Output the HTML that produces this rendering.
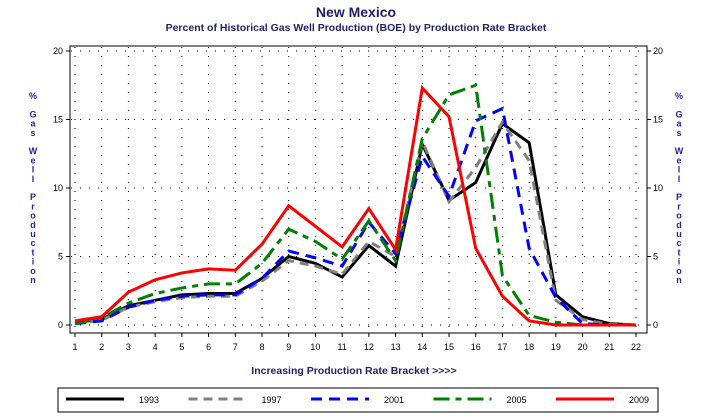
<!DOCTYPE html>
<html><head><meta charset="utf-8"><style>
body{margin:0;background:#fff;}
svg{display:block;font-family:"Liberation Sans",Arial,sans-serif;}
</style></head><body>
<svg id="chart" width="712" height="418" viewBox="0 0 712 418" xmlns="http://www.w3.org/2000/svg">
<text x="356" y="17" text-anchor="middle" font-size="14" font-weight="bold" fill="#1f1f6b">New Mexico</text>
<text x="356" y="31" text-anchor="middle" font-size="10.5" font-weight="bold" fill="#1f1f6b">Percent of Historical Gas Well Production (BOE) by Production Rate Bracket</text>
<g id="grid"></g>
<rect x="70" y="46" width="577" height="287" fill="none" stroke="#000" stroke-width="1"/>
<g id="axes"></g>
<g id="series"></g>
<g font-size="9" font-weight="bold" fill="#2222aa" text-anchor="middle" id="ylt"></g>
<g font-size="9" font-weight="bold" fill="#2222aa" text-anchor="middle" id="yrt"></g>
<text x="354" y="374" text-anchor="middle" font-size="10.5" font-weight="bold" fill="#1f1f6b">Increasing Production Rate Bracket &gt;&gt;&gt;&gt;</text>
<rect x="58" y="388" width="600" height="24" fill="#fff" stroke="#000" stroke-width="1"/>
<g id="legend"></g>
</svg>
<script>
const categories=[1,2,3,4,5,6,7,8,9,10,11,12,13,14,15,16,17,18,19,20,21,22];
const yTicks=[0,5,10,15,20];
const seriesNames=["1993","1997","2001","2005","2009"];
const s1993=[0.2,0.4,1.4,1.8,2.2,2.3,2.3,3.4,5.0,4.5,3.5,5.8,4.3,13.2,9.1,10.4,14.7,13.3,2.2,0.6,0.1,0];
const s1997=[0.1,0.35,1.3,1.7,2.0,2.1,2.1,3.2,4.7,4.3,3.7,6.1,5.0,13.4,9.0,11.5,14.8,12.0,1.8,0.4,0.05,0];
const s2001=[0.1,0.3,1.3,1.8,2.1,2.2,2.2,3.4,5.4,4.9,4.3,7.5,5.2,12.3,9.4,14.9,15.8,5.6,2.0,0.1,0,0];
const s2005=[0.1,0.5,1.6,2.3,2.7,3.0,3.0,4.5,7.0,6.1,4.8,7.6,4.7,13.6,16.8,17.5,3.6,0.7,0.2,0,0,0];
const s2009=[0.3,0.6,2.4,3.3,3.8,4.1,4.0,5.9,8.7,7.2,5.7,8.5,5.5,17.3,15.2,5.6,2.1,0.3,0,0,0,0];
const NS="http://www.w3.org/2000/svg";
const X0=75,X1=636,Y0=325,Y1=51;
function xs(c){return X0+(c-1)*(X1-X0)/21;}
function ys(v){return Y0-v*(Y0-Y1)/20;}
function mk(tag,attrs,parent){const e=document.createElementNS(NS,tag);for(const k in attrs)e.setAttribute(k,attrs[k]);parent.appendChild(e);return e;}
const grid=document.getElementById('grid'),axes=document.getElementById('axes'),ser=document.getElementById('series'),leg=document.getElementById('legend');
categories.forEach(c=>{
 const l=mk('line',{x1:xs(c),x2:xs(c),y1:47,y2:332,stroke:'#000','stroke-width':1,'stroke-dasharray':'1 8'},grid);
 
 
 const t=mk('line',{x1:xs(c),x2:xs(c),y1:333,y2:337,stroke:'#000'},axes);
 
 
 const tx=mk('text',{x:xs(c),y:350,'text-anchor':'middle','font-size':9,fill:'#000'},axes);
 tx.textContent=c;
 
 
});
yTicks.forEach(v=>{
 const l=mk('line',{x1:71,x2:646,y1:ys(v),y2:ys(v),stroke:'#000','stroke-width':1,'stroke-dasharray':'1 8'},grid);
 
 
 [[66,70],[647,651]].forEach(p=>{const t=mk('line',{x1:p[0],x2:p[1],y1:ys(v),y2:ys(v),stroke:'#000'},axes);
 
 });
 const a=mk('text',{x:63,y:ys(v)+3,'text-anchor':'end','font-size':9},axes);a.textContent=v;
 
 
 const b=mk('text',{x:653,y:ys(v)+3,'text-anchor':'start','font-size':9},axes);b.textContent=v;
 
 
});
const styles=[{c:'#000',d:''},{c:'#808080',d:'9 6'},{c:'#0000ff',d:'11 7'},{c:'#008000',d:'16 6 6 6'},{c:'#ff0000',d:''}];
const data=[s1993,s1997,s2001,s2005,s2009];
data.forEach((arr,i)=>{
 const p=mk('polyline',{points:arr.map((v,j)=>xs(categories[j])+','+ys(v)).join(' '),fill:'none',stroke:styles[i].c,'stroke-width':3,'stroke-dasharray':styles[i].d,'stroke-linejoin':'miter'},ser);
 
 
 const lx=66+i*122.5;
 const ll=mk('line',{x1:lx,x2:lx+58,y1:399,y2:399,stroke:styles[i].c,'stroke-width':3,'stroke-dasharray':styles[i].d},leg);
 
 
 const lt=mk('text',{x:lx+73,y:403,'font-size':9},leg);lt.textContent=seriesNames[i];
 
 
});
const ytitle=["%","","G","a","s","","W","e","l","l","","P","r","o","d","u","c","t","i","o","n"];
[['ylt',33],['yrt',679]].forEach(([id,x])=>{const g=document.getElementById(id);
 ytitle.forEach((ch,k)=>{if(!ch)return;const t=mk('text',{x:x,y:99+k*9.2},g);t.textContent=ch;
 
 });});
</script>
</body></html>
